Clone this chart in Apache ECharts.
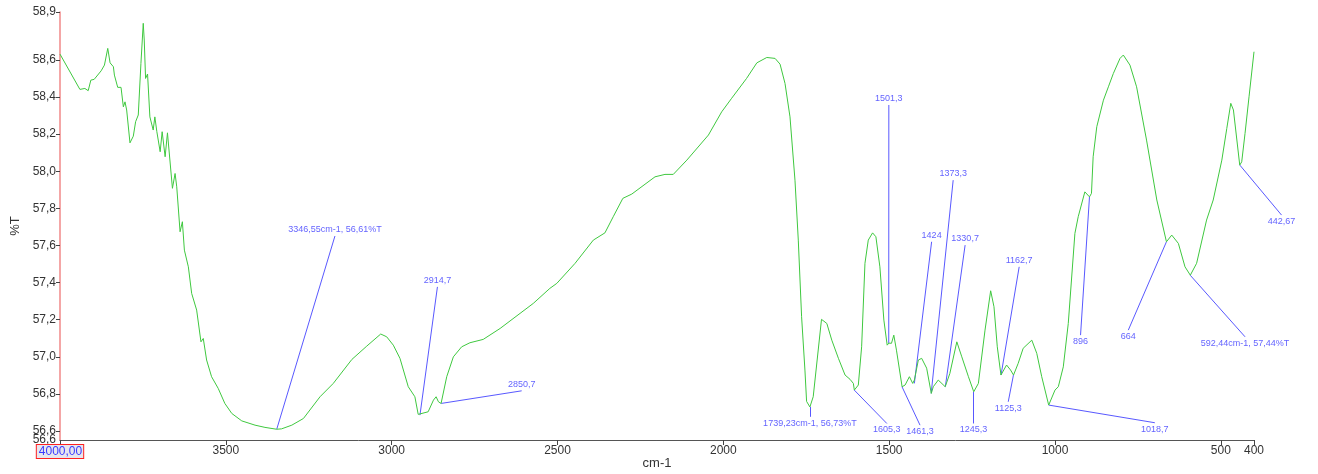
<!DOCTYPE html>
<html>
<head>
<meta charset="utf-8">
<script src="https://cdn.jsdelivr.net/npm/echarts@6/dist/echarts.min.js"></script>
<style>
  html, body { margin: 0; padding: 0; background: #fff; }
  #chart { width: 1318px; height: 474px; }
</style>
</head>
<body>
<div id="chart"></div>
<script>
  // spectrum (cm-1 / %T)
  const wavenumbers = [
    4000, 3940, 3925, 3915, 3907, 3897, 3876, 3866, 3861, 3856, 3849, 3839, 3836, 3826, 3816, 3809, 3804, 3799,
    3789, 3779, 3772, 3764, 3756, 3749, 3746, 3742, 3736, 3729, 3719, 3714, 3708, 3698, 3692, 3683, 3676, 3671,
    3661, 3653, 3648, 3638, 3631, 3625, 3613, 3603, 3588, 3575, 3568, 3558, 3543, 3523, 3503, 3482, 3452, 3412,
    3382, 3347, 3332, 3301, 3266, 3216, 3176, 3120, 3075, 3033, 3015, 2995, 2975, 2950, 2930, 2920, 2914, 2890,
    2874, 2866, 2859, 2851, 2834, 2814, 2789, 2764, 2724, 2673, 2613, 2573, 2523, 2502, 2447, 2392, 2357, 2332,
    2303, 2276, 2206, 2176, 2151, 2110, 2045, 2005, 1975, 1930, 1899, 1869, 1844, 1829, 1814, 1799, 1784, 1774,
    1764, 1754, 1749, 1739, 1734, 1729, 1704, 1688, 1673, 1653, 1633, 1618, 1608, 1605, 1593, 1583, 1573, 1563,
    1550, 1540, 1528, 1516, 1506, 1501, 1493, 1486, 1478, 1461, 1452, 1439, 1429, 1424, 1412, 1402, 1387, 1373,
    1367, 1352, 1347, 1331, 1317, 1296, 1281, 1261, 1245, 1231, 1211, 1194, 1184, 1174, 1163, 1146, 1134, 1125,
    1111, 1096, 1070, 1055, 1040, 1019, 1000, 990, 975, 960, 940, 930, 910, 896, 890, 885, 874, 854, 839, 824,
    804, 794, 774, 754, 724, 693, 664, 648, 628, 608, 592, 573, 543, 523, 497, 482, 470, 462, 443, 437, 427, 415,
    400
  ]
  const transmittance = [
    58.631, 58.441, 58.446, 58.434, 58.491, 58.495, 58.541, 58.572, 58.563, 58.662, 58.584, 58.563, 58.518, 58.452,
    58.452, 58.347, 58.374, 58.330, 58.153, 58.189, 58.267, 58.303, 58.581, 58.797, 58.707, 58.500, 58.524, 58.293,
    58.222, 58.293, 58.213, 58.105, 58.213, 58.078, 58.207, 58.213, 57.908, 57.988, 57.916, 57.674, 57.728, 57.575,
    57.485, 57.342, 57.252, 57.081, 57.099, 56.983, 56.893, 56.830, 56.749, 56.695, 56.655, 56.632, 56.620, 56.610,
    56.612, 56.632, 56.668, 56.785, 56.857, 56.986, 57.058, 57.123, 57.108, 57.063, 56.992, 56.839, 56.785, 56.690,
    56.686, 56.704, 56.767, 56.785, 56.758, 56.749, 56.893, 57.000, 57.054, 57.076, 57.094, 57.153, 57.234, 57.288,
    57.369, 57.396, 57.504, 57.629, 57.668, 57.755, 57.854, 57.877, 57.970, 57.983, 57.983, 58.060, 58.195, 58.320,
    58.393, 58.500, 58.584, 58.613, 58.608, 58.577, 58.473, 58.293, 57.952, 57.629, 57.216, 56.929, 56.760, 56.730,
    56.740, 56.785, 57.202, 57.180, 57.090, 56.992, 56.902, 56.879, 56.857, 56.821, 56.848, 57.054, 57.504, 57.629,
    57.668, 57.647, 57.485, 57.198, 57.063, 57.074, 57.073, 57.117, 57.036, 56.839, 56.848, 56.893, 56.857, 56.875,
    56.983, 56.992, 56.939, 56.803, 56.839, 56.875, 56.884, 56.839, 56.911, 57.081, 57.000, 56.893, 56.812, 56.857,
    57.144, 57.356, 57.270, 57.054, 56.902, 56.956, 56.929, 56.902, 56.965, 57.046, 57.090, 57.019, 56.893, 56.740,
    56.821, 56.839, 56.946, 57.180, 57.665, 57.755, 57.889, 57.862, 57.881, 58.078, 58.240, 58.383, 58.455, 58.527,
    58.608, 58.626, 58.572, 58.455, 58.168, 57.845, 57.620, 57.656, 57.611, 57.485, 57.440, 57.504, 57.737, 57.845,
    58.060, 58.231, 58.366, 58.330, 58.033, 58.051, 58.204, 58.401, 58.644
  ]

  // peak annotations: marked point, end of the leader line, text, text side
  const peakWn = [3346.55, 2914.7, 2850.7, 1739.23, 1605.3, 1501.3, 1461.3, 1424, 1373.3, 1330.7, 1245.3, 1162.7, 1125.3, 1018.7, 896, 664, 592.44, 442.67]
  const peakT = [56.61, 56.686, 56.749, 56.73, 56.821, 57.074, 56.839, 56.857, 56.803, 56.839, 56.812, 56.902, 56.902, 56.74, 57.862, 57.62, 57.44, 58.033]
  const leaderWn = [3171, 2862, 2608, 1739, 1507, 1501, 1407, 1372, 1307, 1271, 1246, 1108, 1141, 699, 923, 779, 427, 317]
  const leaderT = [57.651, 57.377, 56.817, 56.677, 56.641, 58.357, 56.632, 57.62, 57.952, 57.602, 56.641, 57.485, 56.758, 56.645, 57.117, 57.144, 57.108, 57.764]
  const peakText = [
    '3346,55cm-1, 56,61%T', '2914,7', '2850,7', '1739,23cm-1, 56,73%T', '1605,3', '1501,3', '1461,3', '1424',
    '1373,3', '1330,7', '1245,3', '1162,7', '1125,3', '1018,7', '896', '664', '592,44cm-1, 57,44%T', '442,67'
  ]
  const textSide = ['top', 'top', 'top', 'bottom', 'bottom', 'top', 'bottom', 'top', 'top', 'top', 'bottom', 'top', 'bottom', 'bottom', 'bottom', 'bottom', 'bottom', 'bottom']

  const yMin = 56.552
  const yMax = 58.858

  const chart = echarts.init(document.getElementById('chart'))

  const comma = (v, d) => v.toFixed(d).replace('.', ',')

  const yLabelStyle = { color: '#333', fontSize: 12, margin: 4 }

  const option = {
    animation: false,
    textStyle: { fontFamily: 'Liberation Sans, Arial, sans-serif' },
    grid: { left: 60, right: 64, top: 12, bottom: 34, outerBoundsMode: 'none', containLabel: false },
    xAxis: {
      type: 'value',
      inverse: true,
      min: 400,
      max: 4000,
      splitNumber: 8,
      name: 'cm-1',
      nameLocation: 'middle',
      nameGap: 17,
      nameMoveOverlap: false,
      nameTextStyle: { color: '#333', fontSize: 13 },
      axisLine: { lineStyle: { color: '#555', width: 1 } },
      axisTick: { show: true, length: 5, lineStyle: { color: '#444' } },
      splitLine: { show: false },
      axisLabel: {
        color: '#333',
        fontSize: 12,
        margin: 5,
        showMinLabel: true,
        showMaxLabel: true,
        formatter: v => v === 4000 ? '{sel|4000,00}' : String(v),
        rich: {
          sel: {
            color: '#3a3aff',
            fontSize: 12,
            backgroundColor: '#e6e6ee',
            borderColor: '#ff2020',
            borderWidth: 1,
            padding: [1, 1, 0, 2]
          }
        }
      }
    },
    yAxis: [
      {
        type: 'value',
        position: 'left',
        min: yMin,
        max: yMax,
        splitNumber: 10,
        name: '%T',
        nameLocation: 'middle',
        nameGap: 38,
        nameMoveOverlap: false,
        nameRotate: 90,
        nameTextStyle: { color: '#333', fontSize: 13 },
        axisLine: { show: true, lineStyle: { color: '#f08888', width: 1.5 } },
        axisTick: { show: true, length: 4, lineStyle: { color: '#444' } },
        splitLine: { show: false },
        axisLabel: Object.assign({}, yLabelStyle, {
          showMinLabel: false,
          showMaxLabel: true,
          formatter: v => comma(v, 1)
        })
      },
      {
        // only carries the label at the bottom end, which overlaps the 56,6 tick
        type: 'value',
        position: 'left',
        min: yMin,
        max: yMax,
        splitNumber: 10,
        axisLine: { show: false },
        axisTick: { show: false },
        splitLine: { show: false },
        axisLabel: Object.assign({}, yLabelStyle, {
          showMinLabel: true,
          showMaxLabel: false,
          formatter: v => v === yMin ? comma(v, 1) : ''
        })
      }
    ],
    series: [
      {
        type: 'line',
        data: wavenumbers.map((w, i) => [w, transmittance[i]]),
        showSymbol: false,
        lineStyle: { color: '#3fc83f', width: 1 },
        silent: true
      },
      {
        type: 'lines',
        coordinateSystem: 'cartesian2d',
        clip: false,
        silent: true,
        lineStyle: { color: '#4646ff', width: 1, opacity: 0.9 },
        data: peakWn.map((w, i) => ({ coords: [[w, peakT[i]], [leaderWn[i], leaderT[i]]] }))
      },
      {
        type: 'scatter',
        clip: false,
        silent: true,
        symbolSize: 0,
        data: leaderWn.map((w, i) => ({
          value: [w, leaderT[i], peakText[i]],
          label: { position: textSide[i] }
        })),
        label: {
          show: true,
          distance: 2,
          color: '#3a3aff',
          fontSize: 9,
          formatter: p => p.data.value[2]
        }
      }
    ]
  }

  chart.setOption(option)
</script>
</body>
</html>
